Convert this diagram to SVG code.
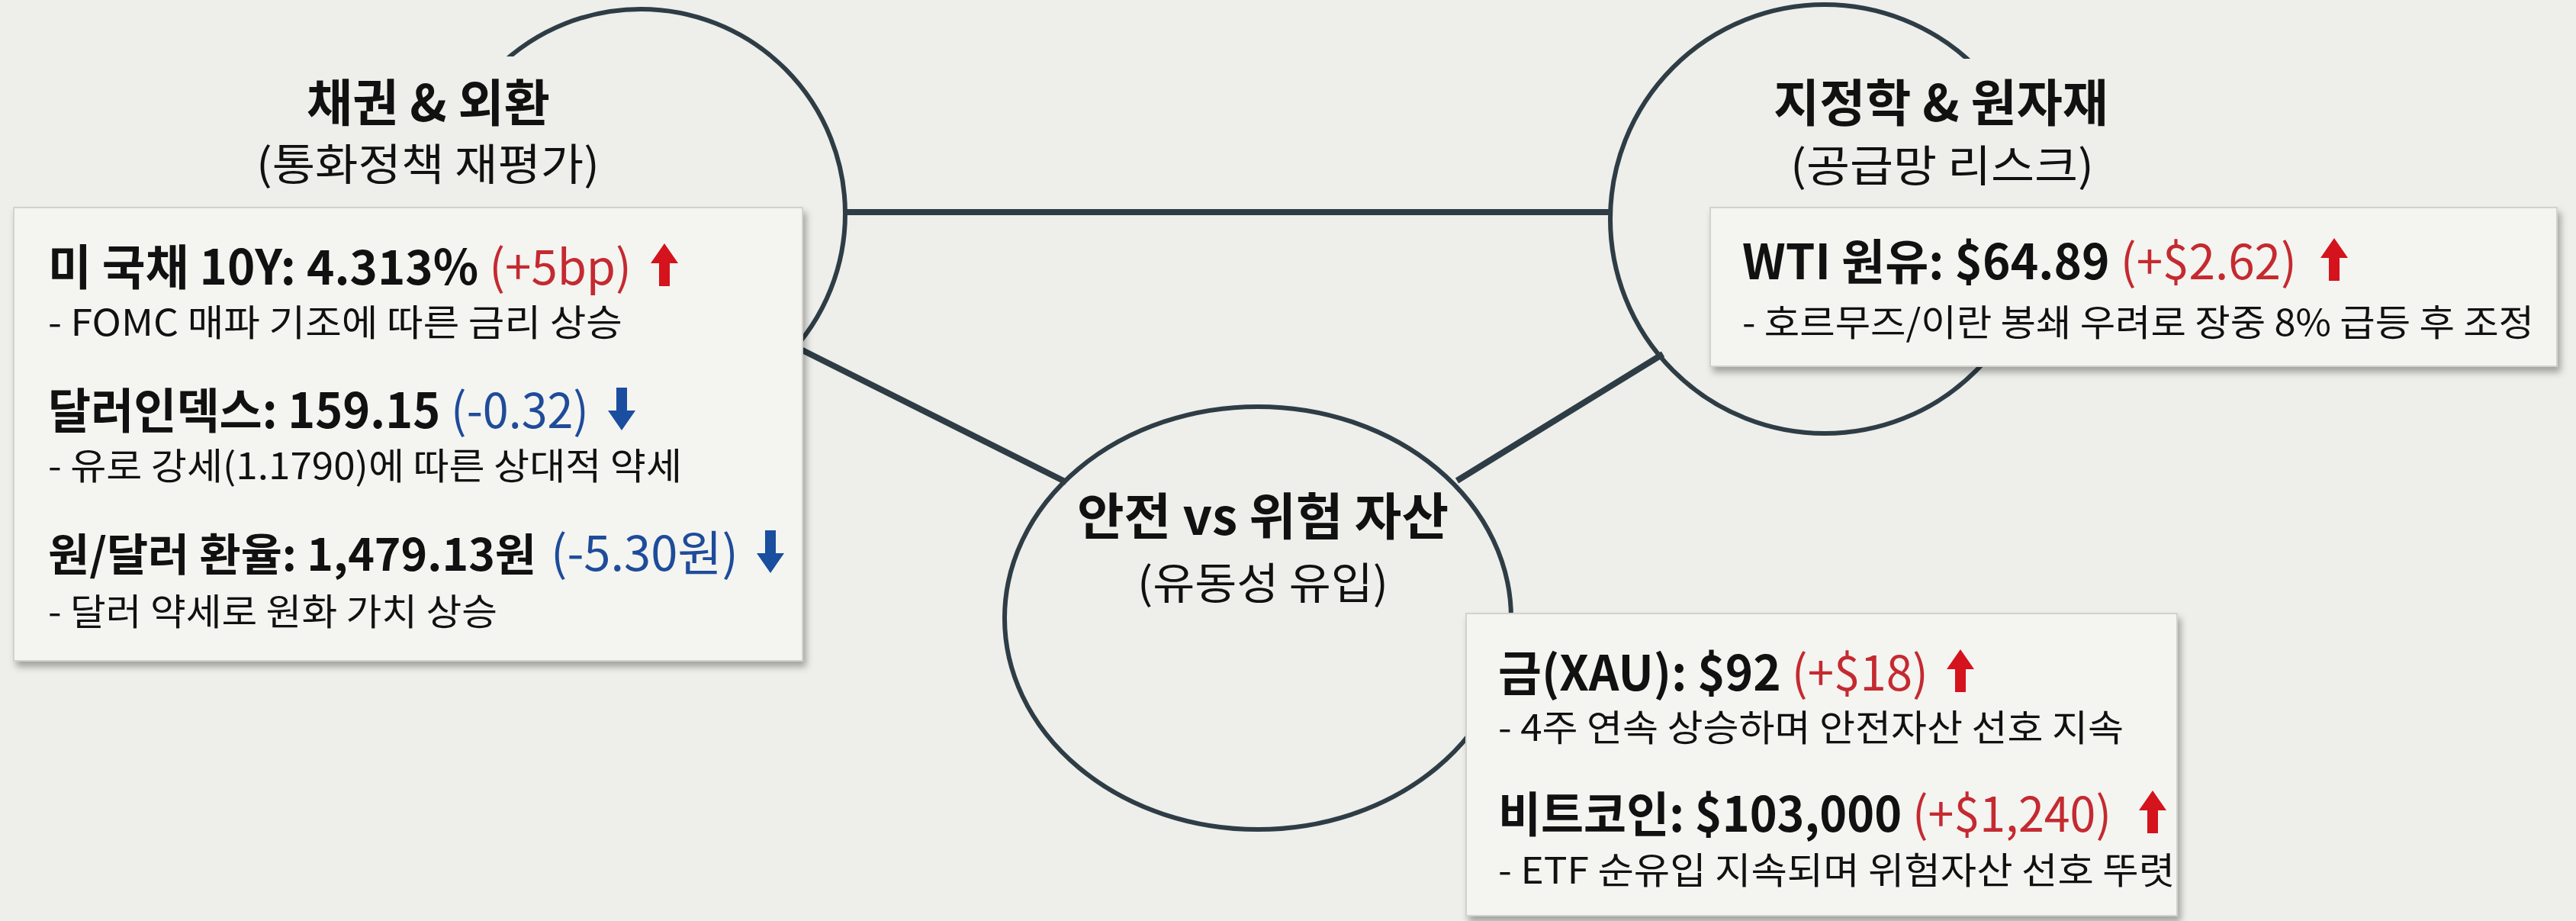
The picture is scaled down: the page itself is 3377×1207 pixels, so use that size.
<svg xmlns="http://www.w3.org/2000/svg" width="3377" height="1207" viewBox="0 0 3377 1207">
<style>
text{font-family:"Noto Sans CJK KR","Noto Sans",sans-serif;fill:#111111}
.ttl{font-size:66px;font-weight:700}
.sub{font-size:57px;font-weight:400}
.main{font-size:63px;font-weight:700}
.desc{font-size:48px;font-weight:400}
.chg{font-size:63px;font-weight:400}
.up{fill:#C42A30}
.dn{fill:#1E4C9A}
.ring{fill:none;stroke:#2E3D45;stroke-width:6}
.conn{stroke:#2E3D45;stroke-width:8;stroke-linecap:butt}
.box{fill:#F4F4F1;stroke:#D2D2CE;stroke-width:2;filter:url(#sh)}
.bg{fill:#EEEEEA}
.ua{fill:#D4131D}
.da{fill:#1A4E9E}
</style>
<defs>
<filter id="sh" x="-5%" y="-5%" width="115%" height="120%">
<feDropShadow dx="4" dy="7" stdDeviation="5" flood-color="#000000" flood-opacity="0.32"/>
</filter>
<path id="arrUp" d="M0,-56 L18,-30 L7,-30 L7,0 L-7,0 L-7,-30 L-18,-30 Z"/>
<path id="arrDn" d="M0,0 L18,-26 L7,-26 L7,-56 L-7,-56 L-7,-26 L-18,-26 Z"/>
</defs>
<rect x="0" y="0" width="3377" height="1207" class="bg"/>
<g id="connectors">
<line class="conn" x1="1108" y1="278" x2="2111" y2="278"/>
<line class="conn" x1="1040" y1="453" x2="1398" y2="632"/>
<line class="conn" x1="2180" y1="464" x2="1910" y2="630"/>
</g>
<g id="node-bonds-fx">
<circle class="ring" cx="840" cy="280" r="268"/>
<rect class="bg" x="320" y="74" width="500" height="200"/>
<text class="ttl" x="402" y="159" textLength="319" lengthAdjust="spacingAndGlyphs">채권 &amp; 외환</text>
<text class="sub" x="336" y="236" textLength="450" lengthAdjust="spacingAndGlyphs">(통화정책 재평가)</text>
<rect class="box" x="18" y="272" width="1034" height="594"/>
<text class="main" x="63" y="373" textLength="765" lengthAdjust="spacingAndGlyphs">미 국채 10Y: 4.313% <tspan class="up" font-weight="400">(+5bp)</tspan></text>
<use href="#arrUp" class="ua" x="871" y="375"/>
<text class="desc" x="63" y="440" textLength="753" lengthAdjust="spacingAndGlyphs">- FOMC 매파 기조에 따른 금리 상승</text>
<text class="main" x="63" y="561" textLength="709" lengthAdjust="spacingAndGlyphs">달러인덱스: 159.15 <tspan class="dn" font-weight="400">(-0.32)</tspan></text>
<use href="#arrDn" class="da" x="815" y="564"/>
<text class="desc" x="63" y="628" textLength="831" lengthAdjust="spacingAndGlyphs">- 유로 강세(1.1790)에 따른 상대적 약세</text>
<text class="main" x="63" y="748" style="font-size:58px" textLength="640" lengthAdjust="spacingAndGlyphs">원/달러 환율: 1,479.13원</text>
<text class="chg dn" x="722" y="748" textLength="246" lengthAdjust="spacingAndGlyphs">(-5.30원)</text>
<use href="#arrDn" class="da" x="1010" y="751"/>
<text class="desc" x="63" y="819" textLength="589" lengthAdjust="spacingAndGlyphs">- 달러 약세로 원화 가치 상승</text>
</g>
<g id="node-geo-commodities">
<circle class="ring" cx="2392" cy="287" r="281"/>
<rect class="bg" x="2300" y="77" width="500" height="197"/>
<text class="ttl" x="2325" y="159" textLength="439" lengthAdjust="spacingAndGlyphs">지정학 &amp; 원자재</text>
<text class="sub" x="2347" y="238" textLength="398" lengthAdjust="spacingAndGlyphs">(공급망 리스크)</text>
<rect class="box" x="2242" y="272" width="1110" height="208"/>
<text class="main" x="2284" y="366" textLength="727" lengthAdjust="spacingAndGlyphs">WTI 원유: $64.89 <tspan class="up" font-weight="400">(+$2.62)</tspan></text>
<use href="#arrUp" class="ua" x="3060" y="368"/>
<text class="desc" x="2284" y="440" textLength="1038" lengthAdjust="spacingAndGlyphs">- 호르무즈/이란 봉쇄 우려로 장중 8% 급등 후 조정</text>
</g>
<g id="node-safe-risk">
<ellipse class="ring" cx="1649" cy="810" rx="332" ry="277"/>
<text class="ttl" x="1412" y="701" textLength="487" lengthAdjust="spacingAndGlyphs">안전 vs 위험 자산</text>
<text class="sub" x="1491" y="785" textLength="329" lengthAdjust="spacingAndGlyphs">(유동성 유입)</text>
<rect class="box" x="1922" y="804" width="932" height="396"/>
<text class="main" x="1964" y="905" textLength="564" lengthAdjust="spacingAndGlyphs">금(XAU): $92 <tspan class="up" font-weight="400">(+$18)</tspan></text>
<use href="#arrUp" class="ua" x="2570" y="907"/>
<text class="desc" x="1964" y="971" textLength="820" lengthAdjust="spacingAndGlyphs">- 4주 연속 상승하며 안전자산 선호 지속</text>
<text class="main" x="1964" y="1090" textLength="804" lengthAdjust="spacingAndGlyphs">비트코인: $103,000 <tspan class="up" font-weight="400">(+$1,240)</tspan></text>
<use href="#arrUp" class="ua" x="2822" y="1092"/>
<text class="desc" x="1964" y="1158" textLength="887" lengthAdjust="spacingAndGlyphs">- ETF 순유입 지속되며 위험자산 선호 뚜렷</text>
</g>
</svg>
